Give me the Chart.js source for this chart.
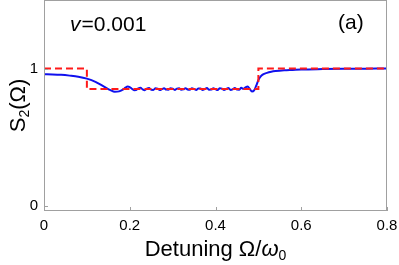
<!DOCTYPE html>
<html>
<head>
<meta charset="utf-8">
<script src="https://cdn.jsdelivr.net/npm/chart.js@4"></script>
<style>
  html, body { margin: 0; padding: 0; background: #fff; }
  #wrap { width: 399px; height: 265px; }
</style>
</head>
<body>
<div id="wrap"><canvas id="chart"></canvas></div>
<script>
// exact step profile (red dashed)
const stepX = [0, 0.1, 0.1, 0.5, 0.5, 0.8];
const stepY = [1, 1, 0.85, 0.85, 1, 1];

// computed spectrum (blue)
const specX = [0, 0.02, 0.04, 0.06, 0.08, 0.1, 0.12, 0.14, 0.155, 0.165, 0.175, 0.185, 0.19, 0.195,
  0.2, 0.205, 0.21, 0.215, 0.22, 0.225, 0.23, 0.235, 0.24, 0.245, 0.25, 0.255, 0.26, 0.265, 0.27,
  0.275, 0.28, 0.285, 0.29, 0.295, 0.3, 0.305, 0.31, 0.315, 0.32, 0.325, 0.33, 0.335, 0.34, 0.345,
  0.35, 0.355, 0.36, 0.365, 0.37, 0.375, 0.38, 0.385, 0.39, 0.395, 0.4, 0.405, 0.41, 0.415, 0.42,
  0.425, 0.43, 0.435, 0.44, 0.445, 0.45, 0.455, 0.46, 0.465, 0.47, 0.475, 0.48, 0.485, 0.49, 0.495,
  0.5, 0.505, 0.51, 0.52, 0.53, 0.54, 0.56, 0.58, 0.6, 0.65, 0.7, 0.75, 0.8];
const specY = [0.958, 0.957, 0.954, 0.948, 0.94, 0.926, 0.903, 0.868, 0.842, 0.83, 0.833, 0.848, 0.86, 0.868,
  0.864, 0.852, 0.842, 0.843, 0.855, 0.86, 0.848, 0.842, 0.853, 0.857, 0.845, 0.844, 0.855, 0.853, 0.843,
  0.849, 0.856, 0.846, 0.845, 0.855, 0.852, 0.844, 0.853, 0.855, 0.845, 0.848, 0.856, 0.847, 0.845,
  0.855, 0.851, 0.844, 0.854, 0.854, 0.844, 0.85, 0.857, 0.845, 0.846, 0.856, 0.849, 0.843, 0.855,
  0.853, 0.843, 0.851, 0.857, 0.844, 0.848, 0.858, 0.846, 0.845, 0.859, 0.852, 0.862, 0.868, 0.85,
  0.832, 0.84, 0.875, 0.915, 0.94, 0.955, 0.968, 0.976, 0.981, 0.987, 0.99, 0.993, 0.996, 0.998, 0.999, 1.0];

const xTicks = [0, 0.2, 0.4, 0.6, 0.8];
const yTicks = [0, 1];

const FONT = "'Liberation Sans', Arial, sans-serif";
const FRAME = '#a0a0a0';

const pairs = (xs, ys) => xs.map((x, i) => ({ x: x, y: ys[i] }));

// draws pieces of text one after another (for sub/italic bits)
function runText(ctx, parts, x, y) {
  let w = 0;
  parts.forEach(p => { ctx.font = p.f; p.w = ctx.measureText(p.t).width; w += p.w; });
  let x0 = x - w / 2;
  parts.forEach(p => { ctx.font = p.f; ctx.fillText(p.t, x0, y + (p.dy || 0)); x0 += p.w; });
}

// frame, inward ticks, titles and panel labels
const decor = {
  id: 'decor',
  afterDraw(chart) {
    const { ctx, chartArea: a, scales } = chart;
    ctx.save();
    ctx.strokeStyle = FRAME;
    ctx.lineWidth = 1;
    ctx.strokeRect(a.left + 0.5, a.top + 0.5, a.right - a.left - 1, a.bottom - a.top - 1);
    ctx.beginPath();
    xTicks.forEach(v => {
      const px = Math.round(scales.x.getPixelForValue(v)) + 0.5;
      ctx.moveTo(px, a.bottom);
      ctx.lineTo(px, a.bottom - 4);
    });
    yTicks.forEach(v => {
      const py = Math.round(scales.y.getPixelForValue(v)) + 0.5;
      ctx.moveTo(a.left, py);
      ctx.lineTo(a.left + 4, py);
    });
    ctx.stroke();

    ctx.fillStyle = '#000';
    ctx.textAlign = 'left';
    ctx.textBaseline = 'alphabetic';

    const ts = 22;
    const sub = `${Math.round(ts * 0.62)}px ${FONT}`;
    runText(ctx, [
      { t: 'Detuning Ω/', f: `${ts}px ${FONT}` },
      { t: 'ω', f: `italic ${ts}px ${FONT}` },
      { t: '0', f: sub, dy: 4 }
    ], (a.left + a.right) / 2, 256);

    ctx.save();
    ctx.translate(25, (a.top + a.bottom) / 2);
    ctx.rotate(-Math.PI / 2);
    runText(ctx, [
      { t: 'S', f: `${ts}px ${FONT}` },
      { t: '2', f: sub, dy: 4 },
      { t: '(Ω)', f: `${ts}px ${FONT}` }
    ], 0, 0);
    ctx.restore();

    // panel labels
    ctx.font = `italic 21px ${FONT}`;
    ctx.fillText('v', 70, 31);
    const vw = ctx.measureText('v').width;
    ctx.font = `21px ${FONT}`;
    ctx.fillText('=0.001', 70 + vw + 1, 31);
    ctx.fillText('(a)', 338, 29);
    ctx.restore();
  }
};

new Chart(document.getElementById('chart'), {
  type: 'line',
  data: {
    datasets: [
      {
        label: 'step',
        data: pairs(stepX, stepY),
        borderColor: '#ff1a1a',
        borderWidth: 2,
        borderDash: [7, 4],
        pointRadius: 0,
        tension: 0
      },
      {
        label: 'S2',
        data: pairs(specX, specY),
        borderColor: '#1010ee',
        borderWidth: 2,
        pointRadius: 0,
        cubicInterpolationMode: 'monotone'
      }
    ]
  },
  options: {
    responsive: true,
    maintainAspectRatio: false,
    animation: false,
    layout: { padding: { top: 0, right: 12, left: 0, bottom: 0 } },
    plugins: { legend: { display: false }, tooltip: { enabled: false } },
    scales: {
      x: {
        type: 'linear',
        min: 0,
        max: 0.8,
        afterBuildTicks: s => { s.ticks = xTicks.map(v => ({ value: v })); },
        afterFit: s => { s.height = 54; s.paddingLeft = 0; s.paddingRight = 0; },
        grid: { display: false, drawTicks: false },
        border: { display: false },
        ticks: {
          color: '#000',
          font: { family: FONT, size: 15 },
          padding: 6,
          maxRotation: 0,
          callback: v => String(v)
        }
      },
      y: {
        type: 'linear',
        min: -0.04,
        max: 1.5,
        afterBuildTicks: s => { s.ticks = yTicks.map(v => ({ value: v })); },
        afterFit: s => { s.width = 44; s.paddingTop = 0; s.paddingBottom = 0; },
        grid: { display: false, drawTicks: false },
        border: { display: false },
        ticks: {
          color: '#000',
          font: { family: FONT, size: 15 },
          padding: 6,
          callback: v => String(v)
        }
      }
    }
  },
  plugins: [decor]
});
</script>
</body>
</html>
